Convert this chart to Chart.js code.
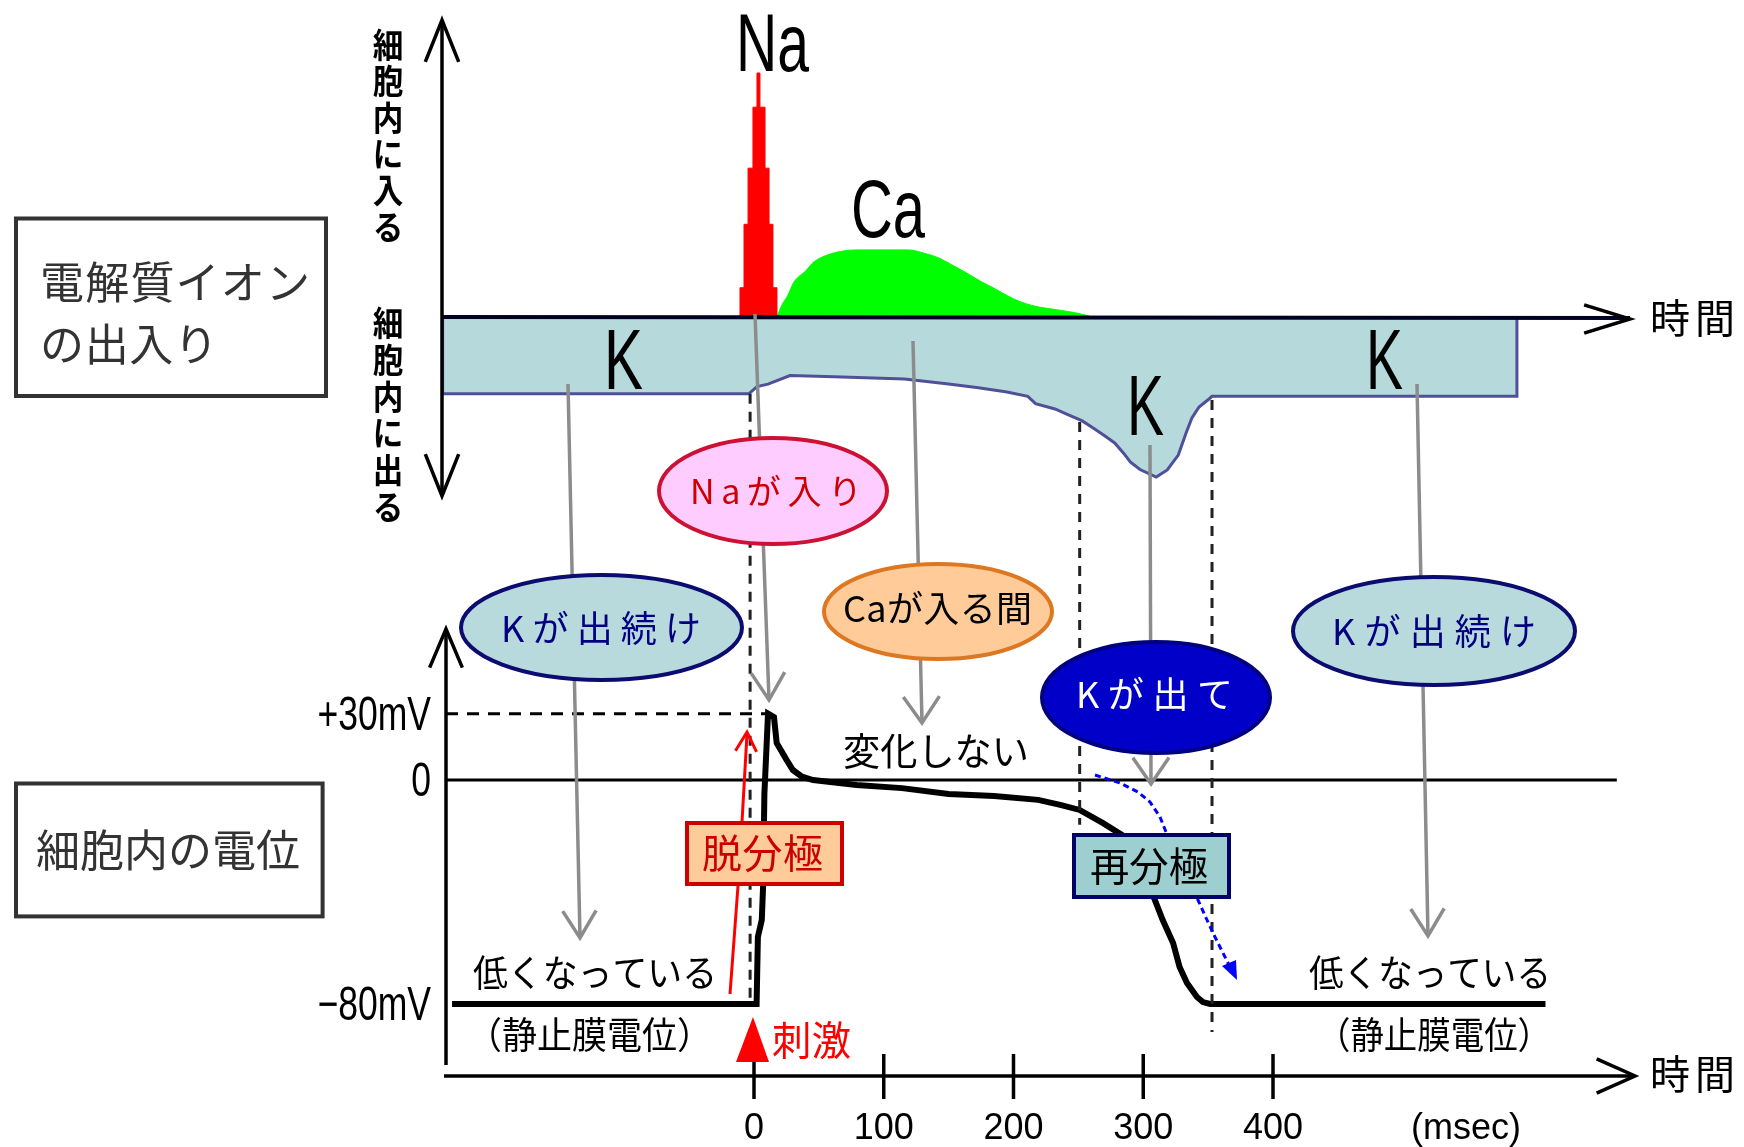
<!DOCTYPE html>
<html>
<head>
<meta charset="utf-8">
<script src="https://cdn.jsdelivr.net/npm/chart.js@4.4.0/dist/chart.umd.min.js"></script>
<style>
  html, body { margin: 0; padding: 0; background: #fff; overflow: hidden; }
  canvas { display: block; }
</style>
</head>
<body>
<canvas id="chart" width="1744" height="1147" style="width:1744px;height:1147px"></canvas>
<script>
// --- data (time in msec) ---
// ion flux: + = into the cell, - = out of the cell (arbitrary units)
const naTimes = [-10.8, -10.8, -7.7, -4.6, -0.8, 2.3, 4.6, 8.5, 11.6, 14.6, 17.7];
const naFlux  = [0, 12, 38, 61, 86, 100, 86, 61, 38, 12, 0];

const caTimes = [17.7, 21.6, 25.8, 30.8, 40, 46, 60, 79, 119, 132, 142, 152, 164, 175, 186, 195, 205, 216, 233, 247, 259];
const caFlux  = [0, 5, 8.6, 14.3, 19, 22.5, 26, 27.5, 27.5, 26, 24.3, 21.5, 18, 14.5, 11.5, 8.8, 6.3, 4.5, 3, 1.8, 0.3];

const kTimes = [-240, -240, -4, 2.3, 10.8, 27.7, 61.7, 116, 150, 173, 195, 211, 217, 232, 241, 253, 262, 270.5, 278, 285,
                290, 297.5, 310, 318.5, 327, 333, 337.5, 343, 350.7, 353, 588, 588];
const kFlux  = [0, -31.5, -31.5, -28.5, -27.5, -24, -24.5, -25.4, -27.5, -29, -30.7, -32.5, -35.5, -37.7, -39.8, -42.6, -45.7, -48.8, -51.6, -55.9,
                -59.4, -62.5, -65.6, -62.7, -56.6, -47.5, -41.4, -36.9, -33.6, -32.5, -32.5, 0];

// membrane potential (mV)
const apTimes = [-232.7, 2, 3, 6, 7, 8, 10.8, 15.4, 17.5, 25.2, 30, 37, 45.5, 79, 114, 150, 185, 219, 236, 251,
                 269, 283.6, 297.5, 309, 315, 323, 328, 333.7, 341.4, 346, 351.5, 610];
const apMV    = [-80, -80, -56, -50, -38, -5, 30, 28.4, 16.7, 9, 4.5, 1.5, 0, -1.8, -2.9, -5, -5.7, -7.1, -8.9, -10.7,
                 -15.4, -19.6, -30.4, -42.9, -50, -58.2, -66.8, -72.5, -77.5, -79.3, -80, -80];

// axes
const timeTicks = [0, 100, 200, 300, 400];
const timeUnit = '(msec)';
const mvTicks = [30, 0, -80];
const mvTickLabels = ['+30mV', '0', '−80mV'];

// dashed guides: time, upper end (flux), lower end (mV)
const guideTimes = [-3, 251, 353];
const guideTopFlux = [-31.5, -43, -34];
const guideBottomMV = [-80, -16, -90];

// --- geometry ---
const T0_PX = 754, PX_PER_MS = 1.2975;
const FLUX0_PX = 317, PX_PER_FLUX = 2.44;
const MV0_PX = 780, PX_PER_MV = 2.8;
const UPPER_SQUEEZE = 0.79;          // the picture draws the positive mV range compressed
const AREA = { left: 442, right: 1640, top: 10, bottom: 1076 };

const squeeze = v => v > 0 ? v * UPPER_SQUEEZE : v;
class SqueezedScale extends Chart.LinearScale {
  getPixelForValue(value) {
    if (value === null || value === undefined) return NaN;
    const lo = squeeze(this.min), hi = squeeze(this.max);
    return this.getPixelForDecimal((squeeze(value) - lo) / (hi - lo));
  }
  getValueForPixel(pixel) {
    const lo = squeeze(this.min), hi = squeeze(this.max);
    const s = lo + this.getDecimalForPixel(pixel) * (hi - lo);
    return s > 0 ? s / UPPER_SQUEEZE : s;
  }
}
SqueezedScale.id = 'squeezed';
SqueezedScale.defaults = Chart.LinearScale.defaults;
Chart.register(SqueezedScale);

const CJK = '"Noto Sans CJK JP", "Noto Sans CJK SC", sans-serif';
const LAT = '"Liberation Sans", Arial, sans-serif';

const pts = (xs, ys) => xs.map((x, i) => ({ x: x, y: ys[i] }));

// text spread (or squeezed) to fill x1..x2
function fitText(ctx, text, x1, x2, y, font, color, baseline) {
  ctx.save();
  ctx.font = font;
  ctx.fillStyle = color;
  ctx.textAlign = 'left';
  ctx.textBaseline = baseline || 'middle';
  const chars = Array.from(text);
  const widths = chars.map(c => ctx.measureText(c).width);
  const total = widths.reduce((a, b) => a + b, 0);
  const target = x2 - x1;
  if (total >= target || chars.length < 2) {
    ctx.translate(x1, y);
    ctx.scale(target / total, 1);
    ctx.fillText(text, 0, 0);
  } else {
    const gap = (target - total) / (chars.length - 1);
    let x = x1;
    chars.forEach((c, i) => { ctx.fillText(c, x, y); x += widths[i] + gap; });
  }
  ctx.restore();
}

function vText(ctx, text, cx, y1, y2, font) {
  const chars = Array.from(text);
  const step = (y2 - y1) / chars.length;
  ctx.save();
  ctx.font = font;
  ctx.fillStyle = '#000';
  ctx.textAlign = 'center';
  ctx.textBaseline = 'middle';
  chars.forEach((c, i) => {
    ctx.save();
    ctx.translate(cx, y1 + step * (i + 0.5));
    ctx.scale(0.9, 1);
    ctx.fillText(c, 0, 0);
    ctx.restore();
  });
  ctx.restore();
}

function line(ctx, x1, y1, x2, y2, color, lw, dash) {
  ctx.save();
  ctx.strokeStyle = color;
  ctx.lineWidth = lw;
  ctx.setLineDash(dash || []);
  ctx.beginPath();
  ctx.moveTo(x1, y1);
  ctx.lineTo(x2, y2);
  ctx.stroke();
  ctx.restore();
}

function head(ctx, x, y, ang, len, spread, color, lw) {
  ctx.save();
  ctx.strokeStyle = color;
  ctx.lineWidth = lw;
  ctx.beginPath();
  ctx.moveTo(x - len * Math.cos(ang - spread), y - len * Math.sin(ang - spread));
  ctx.lineTo(x, y);
  ctx.lineTo(x - len * Math.cos(ang + spread), y - len * Math.sin(ang + spread));
  ctx.stroke();
  ctx.restore();
}

function arrow(ctx, x1, y1, x2, y2, color, lw, len, spread) {
  line(ctx, x1, y1, x2, y2, color, lw);
  head(ctx, x2, y2, Math.atan2(y2 - y1, x2 - x1), len, spread, color, lw);
}

function ellipse(ctx, cx, cy, rx, ry, fill, stroke) {
  ctx.save();
  ctx.beginPath();
  ctx.ellipse(cx, cy, rx, ry, 0, 0, Math.PI * 2);
  ctx.fillStyle = fill;
  ctx.fill();
  ctx.lineWidth = 4;
  ctx.strokeStyle = stroke;
  ctx.stroke();
  ctx.restore();
}

function box(ctx, x1, y1, x2, y2, fill, stroke) {
  ctx.save();
  ctx.fillStyle = fill;
  ctx.fillRect(x1, y1, x2 - x1, y2 - y1);
  ctx.lineWidth = 4;
  ctx.strokeStyle = stroke;
  ctx.strokeRect(x1, y1, x2 - x1, y2 - y1);
  ctx.restore();
}

const diagram = {
  id: 'diagram',
  beforeDraw(chart) {
    const ctx = chart.ctx;
    ctx.save();
    ctx.fillStyle = '#fff';
    ctx.fillRect(0, 0, chart.width, chart.height);
    ctx.restore();
  },
  afterDatasetsDraw(chart) {
    const ctx = chart.ctx, area = chart.chartArea;
    const sx = chart.scales.x, sF = chart.scales.yF, sV = chart.scales.yV;
    const X = t => sx.getPixelForValue(t);
    const F = f => sF.getPixelForValue(f);
    const V = v => sV.getPixelForValue(v);
    const topAxisX = area.left;
    const botAxisX = area.left + 4;
    const baseY = F(0);
    const timeAxisY = area.bottom;

    // top panel axes
    line(ctx, topAxisX, baseY, 1630, baseY + 1, '#000022', 4);
    head(ctx, 1630, baseY + 2, 0, 48, 0.3, '#000', 3.5);
    line(ctx, topAxisX, 20, topAxisX, 496, '#000', 3.5);
    head(ctx, topAxisX, 20, -Math.PI / 2, 45, 0.38, '#000', 3.5);
    head(ctx, topAxisX, 496, Math.PI / 2, 45, 0.38, '#000', 3.5);

    // bottom panel axes
    line(ctx, botAxisX, V(0), X(665), V(0), '#000', 3);
    const peakT = apTimes[apMV.indexOf(Math.max(...apMV))];
    line(ctx, botAxisX, V(30), X(peakT), V(30), '#000', 3, [12, 9]);
    line(ctx, botAxisX, 1065, botAxisX, 629, '#000', 3.5);
    head(ctx, botAxisX, 629, -Math.PI / 2, 42, 0.4, '#000', 3.5);
    line(ctx, botAxisX - 2, timeAxisY, 1635, timeAxisY, '#000', 3.5);
    head(ctx, 1635, timeAxisY, 0, 42, 0.42, '#000', 3.5);
    timeTicks.forEach(t => line(ctx, X(t), timeAxisY - 22, X(t), timeAxisY + 23, '#000', 3.5));

    // tick labels
    ctx.save();
    ctx.font = '36px ' + LAT;
    ctx.fillStyle = '#000';
    ctx.textAlign = 'center';
    ctx.textBaseline = 'middle';
    timeTicks.forEach(t => ctx.fillText(String(t), X(t), timeAxisY + 53));
    ctx.fillText(timeUnit, 1466, timeAxisY + 53);
    ctx.restore();
    mvTicks.forEach((v, i) => {
      ctx.save();
      ctx.font = '48px ' + LAT;
      ctx.fillStyle = '#000';
      ctx.textAlign = 'right';
      ctx.textBaseline = 'middle';
      ctx.translate(botAxisX - 15, V(v) + 3);
      ctx.scale(0.74, 1);
      ctx.fillText(mvTickLabels[i], 0, 0);
      ctx.restore();
    });

    // dashed guides
    guideTimes.forEach((t, i) =>
      line(ctx, X(t), F(guideTopFlux[i]), X(t), V(guideBottomMV[i]), '#222', 3, [10, 8]));

    // gray callout arrows
    const gray = '#8c8c8c';
    arrow(ctx, 568, 384, 580, 938, gray, 3.5, 32, 0.55);
    arrow(ctx, 755, 314, 769, 700, gray, 3.5, 32, 0.55);
    arrow(ctx, 913, 341, 922, 723, gray, 3.5, 32, 0.6);
    arrow(ctx, 1150, 445, 1151, 784, gray, 3.5, 32, 0.6);
    arrow(ctx, 1417, 384, 1428, 936, gray, 3.5, 32, 0.55);

    // red depolarisation arrow
    ctx.save();
    ctx.strokeStyle = '#ff0000';
    ctx.lineWidth = 3;
    ctx.beginPath();
    ctx.moveTo(730, 994);
    ctx.lineTo(738, 886);
    ctx.lineTo(742, 822);
    ctx.lineTo(747, 734);
    ctx.stroke();
    ctx.restore();
    head(ctx, 747, 732, -Math.PI / 2 + 0.05, 22, 0.5, '#ff0000', 3);

    // blue dotted repolarisation arrow
    const blue = [[1095, 775], [1120, 783], [1138, 792], [1150, 802], [1160, 817], [1166, 832], [1182, 866],
                  [1198, 900], [1207, 920], [1215, 937], [1223, 953], [1232, 971]];
    ctx.save();
    ctx.strokeStyle = '#0000ff';
    ctx.lineWidth = 3;
    ctx.setLineDash([6, 4]);
    ctx.beginPath();
    blue.forEach((p, i) => i ? ctx.lineTo(p[0], p[1]) : ctx.moveTo(p[0], p[1]));
    ctx.stroke();
    ctx.setLineDash([]);
    ctx.fillStyle = '#0000ff';
    ctx.beginPath();
    ctx.moveTo(1237, 980);
    ctx.lineTo(1222, 966);
    ctx.lineTo(1236, 960);
    ctx.closePath();
    ctx.fill();
    ctx.restore();

    // callouts
    ellipse(ctx, 773, 491, 114, 53, '#ffccff', '#cc1133');
    fitText(ctx, 'Naが入り', 690, 862, 491, '34px ' + CJK, '#cc0000');
    ellipse(ctx, 601.5, 627.5, 140.5, 52.5, '#b8dadc', '#0c0c70');
    fitText(ctx, 'Kが出続け', 501, 701, 628, '36px ' + CJK, '#000080');
    ellipse(ctx, 938, 611.5, 114, 47.5, '#ffcc99', '#dd7722');
    fitText(ctx, 'Caが入る間', 843, 1032, 608, '36px ' + CJK, '#000');
    ellipse(ctx, 1156, 697.5, 114, 55.5, '#0000c8', '#000080');
    fitText(ctx, 'Kが出て', 1076, 1233, 694, '36px ' + CJK, '#fff');
    ellipse(ctx, 1434, 631, 141, 54, '#b8dadc', '#0c0c70');
    fitText(ctx, 'Kが出続け', 1332, 1536, 631, '36px ' + CJK, '#000080');

    box(ctx, 687, 823, 842, 884, '#ffcc99', '#cc0000');
    fitText(ctx, '脱分極', 702, 823, 853, '40px ' + CJK, '#cc0000');
    box(ctx, 1074, 835, 1229, 897, '#9ecfd0', '#000066');
    fitText(ctx, '再分極', 1090, 1208, 866, '40px ' + CJK, '#000');

    // ion names
    fitText(ctx, 'Na', 736, 809, 71, '82px ' + LAT, '#000', 'alphabetic');
    fitText(ctx, 'Ca', 851, 925, 237, '82px ' + LAT, '#000', 'alphabetic');
    fitText(ctx, 'K', 604, 643, 389, '85px ' + LAT, '#000', 'alphabetic');
    fitText(ctx, 'K', 1127, 1164, 435, '85px ' + LAT, '#000', 'alphabetic');
    fitText(ctx, 'K', 1366, 1403, 389, '85px ' + LAT, '#000', 'alphabetic');

    // other notes
    fitText(ctx, '変化しない', 843, 1029, 751, '38px ' + CJK, '#000');
    fitText(ctx, '低くなっている', 473, 717, 973, '37px ' + CJK, '#000');
    fitText(ctx, '（静止膜電位）', 467, 712, 1035, '37px ' + CJK, '#000');
    fitText(ctx, '低くなっている', 1309, 1551, 973, '37px ' + CJK, '#000');
    fitText(ctx, '（静止膜電位）', 1317, 1551, 1035, '37px ' + CJK, '#000');

    // stimulus marker
    ctx.save();
    ctx.fillStyle = '#ff0000';
    ctx.beginPath();
    ctx.moveTo(X(0) - 1, 1017);
    ctx.lineTo(X(0) + 15, 1062);
    ctx.lineTo(X(0) - 18, 1062);
    ctx.closePath();
    ctx.fill();
    ctx.restore();
    fitText(ctx, '刺激', 772, 851, 1040, '40px ' + CJK, '#ff0000');

    // axis names
    fitText(ctx, '時間', 1650, 1735, 318, '40px ' + CJK, '#000');
    fitText(ctx, '時間', 1650, 1735, 1074, '40px ' + CJK, '#000');
    vText(ctx, '細胞内に入る', 388, 27, 245, 'bold 34px ' + CJK);
    vText(ctx, '細胞内に出る', 388, 305, 525, 'bold 34px ' + CJK);

    // panel titles
    box(ctx, 16, 218.5, 326, 396, '#fff', '#333');
    fitText(ctx, '電解質イオン', 40, 310, 282, '44px ' + CJK, '#333');
    fitText(ctx, 'の出入り', 40, 218, 344, '44px ' + CJK, '#333');
    box(ctx, 16, 783.5, 322.6, 916.4, '#fff', '#333');
    fitText(ctx, '細胞内の電位', 36, 300, 850, '44px ' + CJK, '#333');
  }
};

new Chart(document.getElementById('chart'), {
  type: 'line',
  data: {
    datasets: [
      { label: 'Na', data: pts(naTimes, naFlux), yAxisID: 'yF', stepped: true, fill: 'origin',
        borderColor: '#ff0000', backgroundColor: '#ff0000', borderWidth: 1, pointRadius: 0 },
      { label: 'Ca', data: pts(caTimes, caFlux), yAxisID: 'yF', fill: 'origin', cubicInterpolationMode: 'monotone',
        borderColor: '#00ff00', backgroundColor: '#00ff00', borderWidth: 1, pointRadius: 0 },
      { label: 'K', data: pts(kTimes, kFlux), yAxisID: 'yF', fill: 'origin',
        borderColor: '#4f5098', backgroundColor: '#b6d9dc', borderWidth: 3, pointRadius: 0 },
      { label: '細胞内の電位', data: pts(apTimes, apMV), yAxisID: 'yV', fill: false,
        borderColor: '#000', borderWidth: 6, pointRadius: 0 }
    ]
  },
  options: {
    responsive: false,
    devicePixelRatio: 1,
    animation: false,
    events: [],
    layout: {
      padding: { left: AREA.left, right: 1744 - AREA.right, top: AREA.top, bottom: 1147 - AREA.bottom }
    },
    plugins: { legend: { display: false }, tooltip: { enabled: false } },
    scales: {
      x: { type: 'linear', display: false,
           min: (AREA.left - T0_PX) / PX_PER_MS, max: (AREA.right - T0_PX) / PX_PER_MS },
      yF: { type: 'linear', display: false,
            min: (FLUX0_PX - AREA.bottom) / PX_PER_FLUX, max: (FLUX0_PX - AREA.top) / PX_PER_FLUX },
      yV: { type: 'squeezed', display: false,
            min: -(AREA.bottom - MV0_PX) / PX_PER_MV, max: (MV0_PX - AREA.top) / PX_PER_MV / UPPER_SQUEEZE }
    }
  },
  plugins: [diagram]
});
</script>
</body>
</html>
